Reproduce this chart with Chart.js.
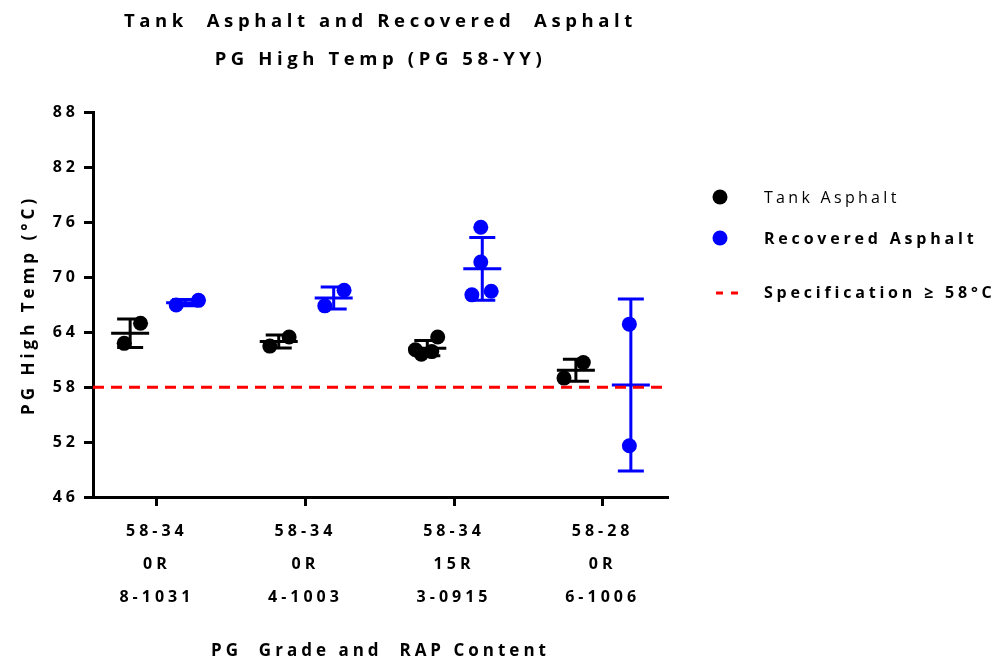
<!DOCTYPE html>
<html><head><meta charset="utf-8">
<script src="https://cdn.jsdelivr.net/npm/chart.js@4/dist/chart.umd.min.js"></script>
<style>html,body{margin:0;padding:0;background:#fff}#wrap{width:997px;height:664px}</style>
</head><body><div id="wrap"><canvas id="c" width="997" height="664"></canvas></div>
<script>
// ---- data ----
const categories = [["58-34","0R","8-1031"],["58-34","0R","4-1003"],["58-34","15R","3-0915"],["58-28","0R","6-1006"]];
const seriesNames = ["Tank Asphalt","Recovered Asphalt"];
const specLabel = "Specification \u2265 58\u00B0C";
const tankValues = [[62.8,65.0],[62.5,63.5],[62.1,61.6,61.9,63.5],[59.0,60.7]];
const recoveredValues = [[67.0,67.5],[66.9,68.6],[75.5,71.7,68.1,68.5],[64.9,51.6]];
const specValue = 58;
const yTicks = [46,52,58,64,70,76,82,88];
// horizontal scatter offsets of the points (in category units)
const tankJitter = [[-0.22,-0.11],[-0.24,-0.11],[-0.26,-0.22,-0.15,-0.11],[-0.26,-0.13]];
const recoveredJitter = [[0.13,0.28],[0.13,0.26],[0.18,0.18,0.12,0.25],[0.18,0.18]];
const tankCenter = -0.18, recoveredCenter = 0.19;
const xMin = 0.57, xMax = 4.44;

const BLUE = '#0000FF', RED = '#FF0000', BLACK = '#000000';
Chart.defaults.font.family = "'Open Sans', sans-serif";
Chart.defaults.color = BLACK;

function pts(vals, jit){
  const out = [];
  vals.forEach((g,i)=>g.forEach((v,j)=>out.push({x:i+1+jit[i][j], y:v})));
  return out;
}

const styling = {
  id:'styling',
  beforeDraw(chart){
    chart.ctx.letterSpacing = '4px';
    const tb = chart.titleBlock;
    if (tb && !tb._wrapped){
      const d = tb.draw;
      tb.draw = function(...a){ const c = this.ctx; c.save(); c.letterSpacing='4.6px'; d.apply(this,a); c.restore(); };
      tb._wrapped = true;
    }
  }
};

const errorBars = {
  id:'errorBars',
  beforeDatasetsDraw(chart){
    const {ctx, scales:{x, y}} = chart;
    const groups = [[tankValues, tankCenter, BLACK],[recoveredValues, recoveredCenter, BLUE]];
    ctx.save(); ctx.lineWidth = 3; ctx.lineCap = 'butt';
    groups.forEach(([vals, off, col])=>{
      ctx.strokeStyle = col;
      vals.forEach((g,i)=>{
        const n = g.length, m = g.reduce((a,b)=>a+b,0)/n;
        const sd = Math.sqrt(g.reduce((a,b)=>a+(b-m)*(b-m),0)/(n-1));
        const cx = x.getPixelForValue(i+1+off);
        const ym = y.getPixelForValue(m), yt = y.getPixelForValue(m+sd), yb = y.getPixelForValue(m-sd);
        ctx.beginPath();
        ctx.moveTo(cx-19,ym); ctx.lineTo(cx+19,ym);
        ctx.moveTo(cx,yt); ctx.lineTo(cx,yb);
        ctx.moveTo(cx-13,yt); ctx.lineTo(cx+13,yt);
        ctx.moveTo(cx-13,yb); ctx.lineTo(cx+13,yb);
        ctx.stroke();
      });
    });
    ctx.restore();
  }
};

const customLegend = {
  id:'customLegend',
  afterDraw(chart){
    const ctx = chart.ctx;
    ctx.save();
    ctx.textBaseline = 'middle'; ctx.textAlign = 'left';
    ctx.fillStyle = BLACK;
    ctx.beginPath(); ctx.arc(720,197,7.5,0,Math.PI*2); ctx.fill();
    ctx.letterSpacing = '3.3px';
    ctx.font = "16px 'Open Sans', sans-serif";
    ctx.fillText(seriesNames[0], 764, 198);
    ctx.fillStyle = BLUE;
    ctx.beginPath(); ctx.arc(720,238,7.5,0,Math.PI*2); ctx.fill();
    ctx.fillStyle = BLACK;
    ctx.letterSpacing = '3.8px';
    ctx.font = "bold 16px 'Open Sans', sans-serif";
    ctx.fillText(seriesNames[1], 764, 239);
    ctx.strokeStyle = RED; ctx.lineWidth = 3;
    ctx.beginPath(); ctx.moveTo(716,293); ctx.lineTo(723,293); ctx.moveTo(731,293); ctx.lineTo(738,293); ctx.stroke();
    ctx.fillText(specLabel, 764, 293);
    ctx.restore();
  }
};

new Chart(document.getElementById('c'), {
  type:'scatter',
  data:{
    datasets:[
      {type:'line', label:specLabel, data:[{x:xMin,y:specValue},{x:xMax,y:specValue}], borderColor:RED, borderWidth:3, borderDash:[11,7], pointRadius:0, fill:false, order:0},
      {label:seriesNames[0], data:pts(tankValues,tankJitter), backgroundColor:BLACK, borderWidth:0, pointRadius:7.5, order:2},
      {label:seriesNames[1], data:pts(recoveredValues,recoveredJitter), backgroundColor:BLUE, borderWidth:0, pointRadius:7.5, order:2}
    ]
  },
  options:{
    responsive:false, animation:false, devicePixelRatio:1,
    layout:{padding:{left:0,right:329,top:0,bottom:0}},
    plugins:{
      legend:{display:false}, tooltip:{enabled:false},
      title:{display:true, fullSize:false, text:["Tank  Asphalt and Recovered  Asphalt","PG High Temp (PG 58-YY)"], color:BLACK,
        font:{size:18.5, weight:'bold', lineHeight:2.05}, padding:{top:3,bottom:34}}
    },
    scales:{
      x:{type:'linear', min:xMin, max:xMax,
        afterBuildTicks:s=>{ s.ticks = categories.map((c,i)=>({value:i+1})); },
        afterFit:s=>{ s.height = 167; },
        ticks:{callback:(v,i)=>categories[i], color:BLACK, font:{size:16, weight:'bold', lineHeight:2.05}, padding:9, maxRotation:0, autoSkip:false},
        grid:{display:true, drawOnChartArea:false, drawTicks:true, tickLength:9, tickWidth:3, tickColor:BLACK},
        border:{display:true, color:BLACK, width:3},
        title:{display:true, text:'PG  Grade and  RAP Content', color:BLACK, font:{size:17, weight:'bold', lineHeight:1.2}, padding:{top:0,bottom:3}}
      },
      y:{min:46, max:88,
        afterBuildTicks:s=>{ s.ticks = yTicks.map(v=>({value:v})); },
        afterFit:s=>{ s.width = 93; },
        ticks:{color:BLACK, font:{size:16, weight:'bold'}, padding:5},
        grid:{display:true, drawOnChartArea:false, drawTicks:true, tickLength:9, tickWidth:3, tickColor:BLACK},
        border:{display:true, color:BLACK, width:3},
        title:{display:true, text:'PG High Temp (\u00B0C)', color:BLACK, font:{size:17, weight:'bold', lineHeight:1.2}, padding:{top:19,bottom:0}}
      }
    }
  },
  plugins:[styling, errorBars, customLegend]
});
</script>
</body></html>
